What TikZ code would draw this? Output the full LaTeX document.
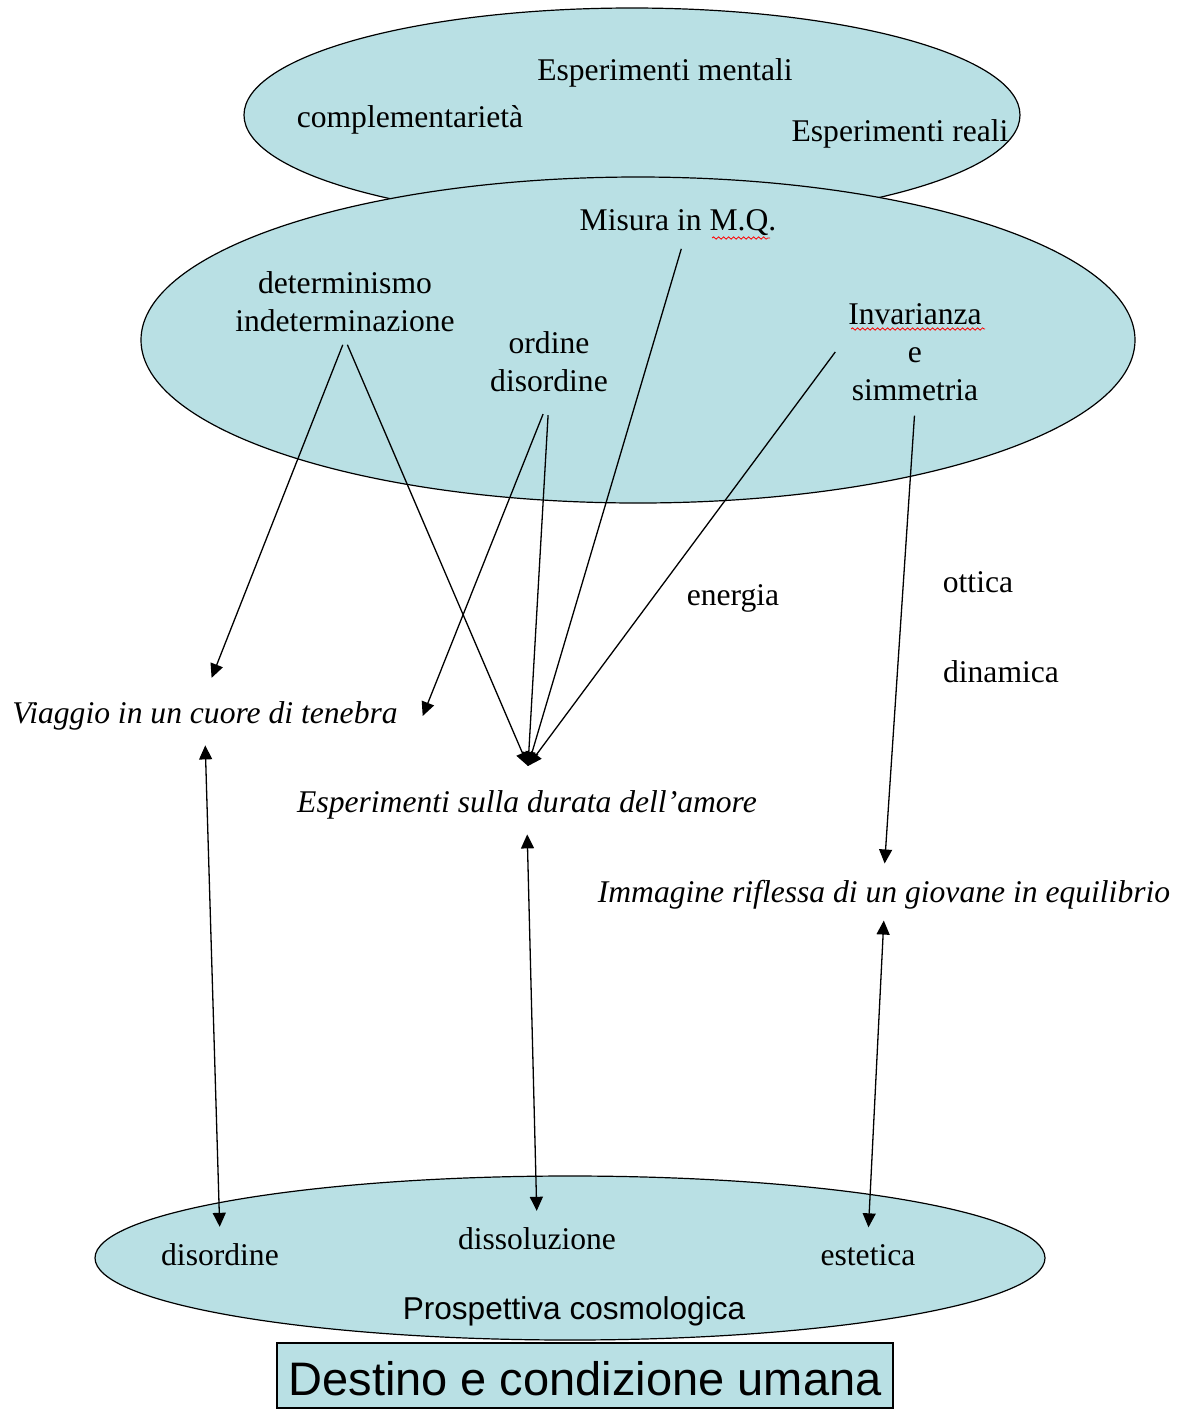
\documentclass[tikz,border=0pt]{standalone}
\usepackage{fontspec}
\setmainfont{Liberation Serif}
\setsansfont{Liberation Sans}
\usetikzlibrary{arrows.meta,calc,decorations.pathmorphing}
\definecolor{ovalfill}{RGB}{185,224,228}

\begin{document}
\begin{tikzpicture}[x=0.5pt,y=-0.5pt,>={Triangle[length=7pt,width=6.5pt]},
  txt/.style={font=\fontsize{15.8}{19}\selectfont,align=center},
  ital/.style={txt,font=\fontsize{15.8}{19}\selectfont\itshape},
  oval/.style={draw=black,line width=0.6pt,fill=ovalfill},
  arr/.style={->,line width=0.65pt},
  darr/.style={<->,line width=0.65pt},
  typo/.style={red,line width=0.4pt,decorate,decoration={snake,amplitude=0.6pt,segment length=2.5pt}}]
  \useasboundingbox (0,0) rectangle (1183,1410);
  % ovals
  \draw[oval] (632,115) ellipse [x radius=194pt,y radius=53.5pt];
  \draw[oval] (638,340) ellipse [x radius=248.5pt,y radius=81.5pt];
  \draw[oval] (570,1258) ellipse [x radius=237.5pt,y radius=41pt];
  \draw[oval] (277,1343) rectangle (893,1408);
  % top oval
  \node[txt] (mentali) at (665,73) {Esperimenti mentali};
  \node[txt] (compl) at (410,120) {complementarietà};
  \node[txt] (reali) at (900,134) {Esperimenti reali};
  % big oval
  \node[txt] (misura) at (678,223) {Misura in M.Q.};
  \node[txt] (det) at (345,302) {determinismo\\indeterminazione};
  \node[txt] (ord) at (549,362) {ordine\\disordine};
  \node[txt] (inv) at (915,352) {Invarianza\\e\\simmetria};
  \draw[typo] (712,238) -- (770,238);
  \draw[typo] (851,329) -- (985,329);
  % middle
  \node[txt] (energia) at (733,598) {energia};
  \node[txt] (ottica) at (978,582) {ottica};
  \node[txt] (dinamica) at (1001,672) {dinamica};
  \node[ital] (viaggio) at (205,716) {Viaggio in un cuore di tenebra};
  \node[ital] (amore) at (527,805) {Esperimenti sulla durata dell'amore};
  \node[ital] (immagine) at (884,895) {Immagine riflessa di un giovane in equilibrio};
  \coordinate (hub) at (528,766);
  % bottom oval
  \node[txt] (disord) at (220,1255) {disordine};
  \node[txt] (dissol) at (537,1239) {dissoluzione};
  \node[txt] (estetica) at (868,1255) {estetica};
  \node[txt,font=\fontsize{15.8}{19}\selectfont\sffamily] (cosmo) at (574,1311) {Prospettiva cosmologica};
  \node[font=\fontsize{23.5}{28}\selectfont\sffamily] (destino) at (585,1379) {Destino e condizione umana};
  % arrows
  \draw[arr,shorten <=3pt,shorten >=9pt] (det.south) -- (viaggio.north);
  \draw[arr,shorten <=3pt] (det.south) -- (hub);
  \draw[arr,shorten <=8pt] (ord.south) -- ([xshift=9pt]viaggio.east);
  \draw[arr,shorten <=8pt] (ord.south) -- (hub);
  \draw[arr,shorten <=3pt] ([xshift=2.5pt]misura.south) -- (hub);
  \draw[arr] ([xshift=-3pt]inv.west) -- (hub);
  \draw[arr,shorten <=4pt,shorten >=5pt] (inv.south) -- (immagine.north);
  \draw[darr,shorten <=4pt,shorten >=5pt] (viaggio.south) -- (disord.north);
  \draw[darr,shorten <=4pt,shorten >=5pt] (amore.south) -- (dissol.north);
  \draw[darr,shorten <=2pt,shorten >=5pt] (immagine.south) -- (estetica.north);
\end{tikzpicture}
\end{document}
